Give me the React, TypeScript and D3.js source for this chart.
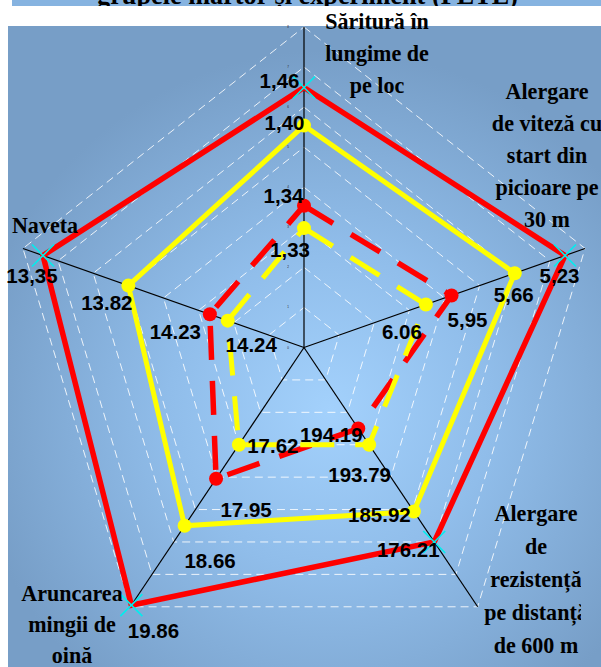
import React from "react";
import * as d3 from "d3";

// ---- data ----
const categoryLines: string[][] = [
  ["Săritură în", "lungime de", "pe loc"],
  ["Alergare", "de viteză cu", "start din", "picioare pe", "30 m"],
  ["Alergare", "de", "rezistență", "pe distanță", "de 600 m"],
  ["Aruncarea", "mingii de", "oină"],
  ["Naveta"],
];
// plotted positions on the chart's 0–8 radial scale (axis order: top, clockwise)
const seriesRedSolid = [6.49, 7.43, 6.0, 7.95, 7.43];
const seriesYellowSolid = [5.54, 6.0, 5.06, 5.5, 5.0];
const seriesRedDashed = [3.54, 4.2, 2.5, 4.05, 2.68];
const seriesYellowDashed = [2.98, 3.47, 3.0, 3.0, 2.17];
const labelsRedSolid = ["1,46", "5,23", "176.21", "19.86", "13,35"];
const labelsYellowSolid = ["1,40", "5,66", "185.92", "18.66", "13.82"];
const labelsRedDashed = ["1,34", "5,95", "194.19", "17.95", "14.23"];
const labelsYellowDashed = ["1,33", "6.06", "193.79", "17.62", "14.24"];
const tickValues = [0, 1, 2, 3, 4, 5, 6, 7, 8];
const titleText = "grupele martor și experiment (PETE)";

// ---- layout / style ----
const W = 601, H = 667;
const CX = 304, CY = 347.5, XS = 0.922;
const rScale = d3.scaleLinear().domain([0, 8]).range([0, 320.5]);
const N = 5;
const ang = (i: number) => (i * 2 * Math.PI) / N;
const pt = (i: number, v: number): [number, number] => [
  CX + rScale(v) * Math.sin(ang(i)) * XS,
  CY - rScale(v) * Math.cos(ang(i)),
];

const labelOffsets = {
  redSolid: [[-24.5, 1], [-5.5, 27], [-26, 15], [22, 33], [-11, 27]],
  yellowSolid: [[-19.5, 4], [-1, 29], [-34.5, 10], [25.5, 42], [-21.5, 24]],
  redDashed: [[-20.5, -3], [16, 31], [-27, 13], [30, 38], [-34.5, 25]],
  yellowDashed: [[-14, 29], [-24, 34], [-9.5, 37], [34, 8], [23.5, 31]],
};
const catLayout = [
  { x: 377, y: 29, lh: 32 },
  { x: 547, y: 99, lh: 32 },
  { x: 536, y: 521, lh: 33 },
  { x: 72, y: 601, lh: 31 },
  { x: 45, y: 233, lh: 32 },
];

const lineGen = d3.line<[number, number]>().curve(d3.curveLinearClosed);

export default function App() {
  const series = [
    { vals: seriesRedSolid, labels: labelsRedSolid, off: labelOffsets.redSolid, color: "#ff0000", dash: undefined, marker: "x", width: 5.5 },
    { vals: seriesYellowSolid, labels: labelsYellowSolid, off: labelOffsets.yellowSolid, color: "#ffff00", dash: undefined, marker: "o", width: 5 },
    { vals: seriesRedDashed, labels: labelsRedDashed, off: labelOffsets.redDashed, color: "#ff0000", dash: "34 21", marker: "o", width: 5.5 },
    { vals: seriesYellowDashed, labels: labelsYellowDashed, off: labelOffsets.yellowDashed, color: "#ffff00", dash: "34 21", marker: "o", width: 5 },
  ];
  const grid = d3.range(1, 9).map((k) => d3.range(N).map((i) => pt(i, k)));
  return (
    <svg width={W} height={H} style={{ position: "absolute", left: 0, top: 0 }} xmlns="http://www.w3.org/2000/svg">
      <defs>
        <radialGradient id="bg" gradientUnits="userSpaceOnUse" cx={330} cy={410} r={360}>
          <stop offset="0" stopColor="#a3d1fc" />
          <stop offset="0.45" stopColor="#90bdea" />
          <stop offset="1" stopColor="#779ec7" />
        </radialGradient>
        <clipPath id="titleClip">
          <rect x={12} y={0} width={589} height={6} />
        </clipPath>
        <clipPath id="brClip">
          <rect x={0} y={0} width={581} height={H} />
        </clipPath>
      </defs>
      <rect x={0} y={0} width={W} height={H} fill="#ffffff" />
      <rect x={12} y={0} width={589} height={6} fill="#86b3e0" />
      <g clipPath="url(#titleClip)">
        <text x={307.5} y={4} textAnchor="middle" fontFamily="'Liberation Serif', 'Times New Roman', serif" fontWeight="bold" fontSize={28} textLength={421} lengthAdjust="spacingAndGlyphs" fill="#000">
          {titleText}
        </text>
      </g>
      <rect x={8} y={26} width={W - 8} height={H - 26} fill="url(#bg)" />

      {/* grid */}
      {grid.map((poly, k) => (
        <path key={k} d={lineGen(poly) || ""} fill="none" stroke="#ffffff" strokeOpacity={0.85} strokeWidth={1} strokeDasharray="8 5" />
      ))}
      {/* axes */}
      {d3.range(N).map((i) => {
        const [x, y] = pt(i, 8);
        return <line key={i} x1={CX} y1={CY} x2={x} y2={y} stroke="#000" strokeWidth={1.2} />;
      })}
      {/* tiny tick labels */}
      {tickValues.map((t) => (
        <text key={t} x={289} y={pt(0, t)[1] + 1} textAnchor="end" fontSize={3} fill="#222" fontFamily="'Liberation Sans', Arial, sans-serif">
          {t}
        </text>
      ))}

      {/* series */}
      {series.map((s, si) => {
        const pts = s.vals.map((v, i) => pt(i, v));
        return (
          <g key={si}>
            <path d={lineGen(pts) || ""} fill="none" stroke={s.color} strokeWidth={s.width} strokeDasharray={s.dash} strokeLinejoin="miter" />
            {pts.map(([x, y], i) =>
              s.marker === "x" ? (
                <g key={i} stroke="#00eeee" strokeWidth={1.6}>
                  <line x1={x - 11} y1={y - 11} x2={x + 11} y2={y + 11} />
                  <line x1={x - 11} y1={y + 11} x2={x + 11} y2={y - 11} />
                </g>
              ) : (
                <circle key={i} cx={x} cy={y} r={7} fill={s.color} />
              )
            )}
          </g>
        );
      })}
      {/* data labels */}
      {series.map((s, si) =>
        s.vals.map((v, i) => {
          const [x, y] = pt(i, v);
          const [dx, dy] = s.off[i];
          return (
            <text key={`${si}-${i}`} x={x + dx} y={y + dy} textAnchor="middle" fontFamily="'Liberation Sans', Arial, sans-serif" fontWeight="bold" fontSize={20.5} fill="#000">
              {s.labels[i]}
            </text>
          );
        })
      )}
      {/* category labels */}
      {categoryLines.map((lines, ci) => {
        const L = catLayout[ci];
        return (
          <g key={ci} clipPath={ci === 2 ? "url(#brClip)" : undefined}>
            {lines.map((ln, li) => (
              <text key={li} transform={`translate(${L.x},${L.y + li * L.lh}) scale(0.92,1)`} textAnchor="middle" fontFamily="'Liberation Serif', 'Times New Roman', serif" fontWeight="bold" fontSize={24} fill="#000">
                {ln}
              </text>
            ))}
          </g>
        );
      })}
    </svg>
  );
}
